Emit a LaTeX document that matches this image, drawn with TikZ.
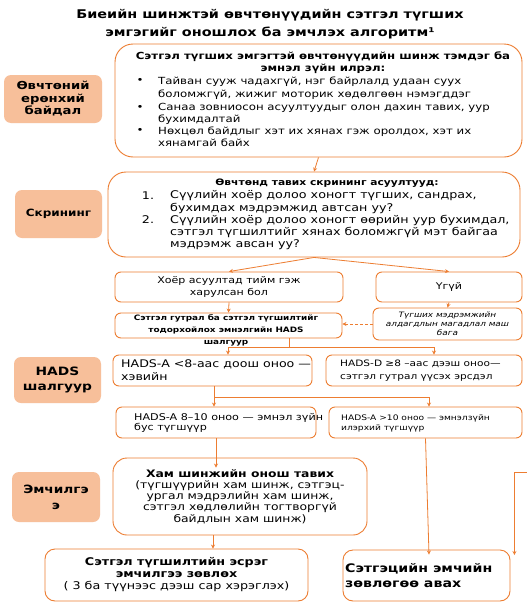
\documentclass[tikz,border=0pt]{standalone}
\usepackage{fontspec}
\setmainfont[FakeStretch=1.2]{DejaVu Sans}
\usetikzlibrary{arrows.meta}
\definecolor{org}{HTML}{ED7D31}
\definecolor{peach}{HTML}{F7BF9A}
\newcommand\fs[2]{\fontsize{#1}{#2}\selectfont}
\begin{document}
\begin{tikzpicture}[x=1pt,y=-1pt,
 box/.style={draw=org, line width=0.9pt, fill=white, rounded corners=6pt, inner sep=0pt},
 bigbox/.style={box, rounded corners=18pt},
 sz/.style 2 args={minimum width=#1pt, minimum height=#2pt},
 lab/.style={fill=peach, rounded corners=7pt, inner sep=0pt, align=center, font=\bfseries\fs{11}{12.5}},
 txt/.style={inner sep=0pt, align=left},
 ctxt/.style={inner sep=0pt, align=center},
 arr/.style={draw=org, line width=0.8pt, -{Stealth[length=4pt,width=4pt]}},
 ln/.style={draw=org, line width=0.8pt}]
\useasboundingbox[fill=white] (0,0) rectangle (527,616);

% title
\node[ctxt, font=\bfseries\fs{12}{18}] (title) at (270,24) {Биеийн шинжтэй өвчтөнүүдийн сэтгэл түгших\\эмгэгийг оношлох ба эмчлэх алгоритм¹};

% left labels
\node[lab, sz={98}{48}] (L1) at (53,99) {Өвчтөний\\ерөнхий\\байдал};
\node[lab, sz={87}{48}, font=\bfseries\fs{10}{12}] (L2) at (58.5,214) {Скрининг};
\node[lab, sz={87}{46}, font=\bfseries\fs{11.5}{15}] (L3) at (57.5,380) {HADS\\шалгуур};
\node[lab, sz={88}{50}, font=\bfseries\fs{11.4}{16}] (L4) at (56,497) {Эмчилгэ\\э};

% box 1
\node[bigbox, sz={407}{113}] (b1) at (318.5,100.5) {};
\node[ctxt, font=\bfseries\fs{9.8}{11.5}] (h1) at (323,62.5) {Сэтгэл түгших эмгэгтэй өвчтөнүүдийн шинж тэмдэг ба\\эмнэл зүйн илрэл:};
\node[txt, font=\fs{9.8}{13}] (d1) at (140,81) {•};
\node[txt, font=\fs{9.8}{13}] (d2) at (140,108) {•};
\node[txt, font=\fs{9.8}{13}] (d3) at (140,131) {•};
\node[txt, anchor=west, font=\fs{9.8}{13}] (t1) at (158,88) {Тайван сууж чадахгүй, нэг байрлалд удаан суух\\боломжгүй, жижиг моторик хөдөлгөөн нэмэгддэг};
\node[txt, anchor=west, font=\fs{9.8}{12}] (t2) at (158,113.5) {Санаа зовниосон асуултуудыг олон дахин тавих, уур\\бухимдалтай};
\node[txt, anchor=west, font=\fs{9.8}{12}] (t3) at (158,137) {Нөхцөл байдлыг хэт их хянах гэж оролдох, хэт их\\хянамгай байх};

% box 2
\node[bigbox, sz={412}{85}] (b2) at (314,214.5) {};
\node[ctxt, font=\bfseries\fs{8.9}{11}] (h2) at (327,183) {Өвчтөнд тавих скрининг асуултууд:};
\node[txt, font=\fs{10.6}{12.3}] (n1) at (148,196) {1.};
\node[txt, font=\fs{10.6}{12.3}] (n2) at (148,220) {2.};
\node[txt, anchor=west, font=\fs{10.6}{12.3}] (q1) at (170,202) {Сүүлийн хоёр долоо хоногт түгших, сандрах,\\бухимдах мэдрэмжид автсан уу?};
\node[txt, anchor=west, font=\fs{10.6}{12.3}] (q2) at (170,232.5) {Сүүлийн хоёр долоо хоногт өөрийн уур бухимдал,\\сэтгэл түгшилтийг хянах боломжгүй мэт байгаа\\мэдрэмж авсан уу?};

% row 3
\node[box, sz={228}{30}, font=\fs{9.2}{12}, align=center] (b3a) at (229,287) {Хоёр асуултад тийм гэж\\харулсан бол};
\node[box, sz={146}{30}, font=\fs{9.2}{12}] (b3b) at (449,287) {Үгүй};

% row 4
\node[box, sz={227}{25}] (b4a) at (228.5,325.5) {};
\node[ctxt, font=\bfseries\fs{7.4}{12}] (t4a) at (226,330) {Сэтгэл гутрал ба сэтгэл түгшилтийг\\тодорхойлох эмнэлгийн HADS\\шалгуур};
\node[box, sz={149}{32}, font=\itshape\fs{7.4}{9}, align=center] (b4b) at (447.5,324) {Түгших мэдрэмжийн\\алдагдлын магадлал маш\\бага};

% row 5
\node[box, sz={199}{31}] (b5a) at (212.5,370.5) {};
\node[txt, anchor=west, font=\fs{10.5}{13}] (t5a) at (121,370.5) {HADS-A <8-аас доош оноо —\\хэвийн};
\node[box, sz={196}{31}] (b5b) at (424,370.5) {};
\node[txt, anchor=west, font=\fs{8.8}{13}] (t5b) at (340,370.5) {HADS-D ≥8 –аас дээш оноо—\\сэтгэл гутрал үүсэх эрсдэл};

% row 6
\node[box, sz={200}{31}] (b5c) at (216,422.5) {};
\node[txt, anchor=west, font=\fs{9.3}{10.5}] (t5c) at (134,423) {HADS-A 8–10 оноо — эмнэл зүйн\\бус түгшүүр};
\node[box, sz={193}{31}] (b5d) at (425.5,422.5) {};
\node[txt, anchor=west, font=\fs{7.6}{10}] (t5d) at (341,423) {HADS-A >10 оноо — эмнэлзүйн\\илэрхий түгшүүр};

% row 7
\node[box, rounded corners=14pt, sz={254}{77}, align=center, font=\fs{10.3}{11.2}] (b6) at (240,496.5) {\textbf{Хам шинжийн онош тавих}\\(түгшүүрийн хам шинж, сэтгэц-\\ургал мэдрэлийн хам шинж,\\сэтгэл хөдлөлийн тогтворгүй\\байдлын хам шинж)};

% row 8
\node[box, rounded corners=10pt, sz={263}{52}, align=center, font=\fs{10.6}{12}] (b7) at (176.5,575) {\textbf{Сэтгэл түгшилтийн эсрэг}\\\textbf{эмчилгээ зөвлөх}\\( 3 ба түүнээс дээш сар хэрэглэх)};
\node[box, rounded corners=10pt, sz={167}{51}] (b8) at (426.5,575.5) {};
\node[txt, anchor=west, font=\bfseries\fs{11.8}{15}] (t8) at (345,575.5) {Сэтгэцийн эмчийн\\зөвлөгөө авах};

% connectors
\draw[arr] (b1.south) -- (b2.north);
\draw[arr] (b2.south) -- (b3a.north);
\draw[arr] (b2.south) -- (b3b.north);
\draw[arr] (b3a.south) -- (b4a.north);
\draw[arr] (b3b.south) -- (b4b.north);
\draw[arr, dashed, dash pattern=on 3pt off 2pt] (b4b.west) -- (b4b.west -| b4a.east);

\coordinate (s1) at ([xshift=60.5pt]b4a.south);
\coordinate (s1b) at ([yshift=-9pt]s1);
\draw[ln] (s1) -- (s1b);
\draw[arr] (s1b) -| ([xshift=15.5pt]b5a.north);
\draw[arr] (s1b) -| ([xshift=10pt]b5b.north);

\coordinate (s2) at ([xshift=1.5pt]b5a.south);
\coordinate (s2b) at ([yshift=-11pt]s2);
\draw[ln] (s2) -- (s2b);
\draw[arr] (s2b) -| ([xshift=-2pt]b5c.north);
\draw[arr] (s2b) -| ([xshift=3.5pt]b5d.north);

\draw[arr] (b5c.south) -- ([xshift=-24pt,yshift=-10pt]b6.north);
\draw[arr] ([xshift=-27pt]b6.south) -- ([xshift=36.5pt]b7.north);
\draw[arr] (b5d.south) -- ([xshift=2.5pt,yshift=-5pt]b8.north);

\coordinate (rin) at (527,472);
\draw[arr] (rin) -| ([xshift=4pt,yshift=20.5pt]b8.east);
\end{tikzpicture}
\end{document}
